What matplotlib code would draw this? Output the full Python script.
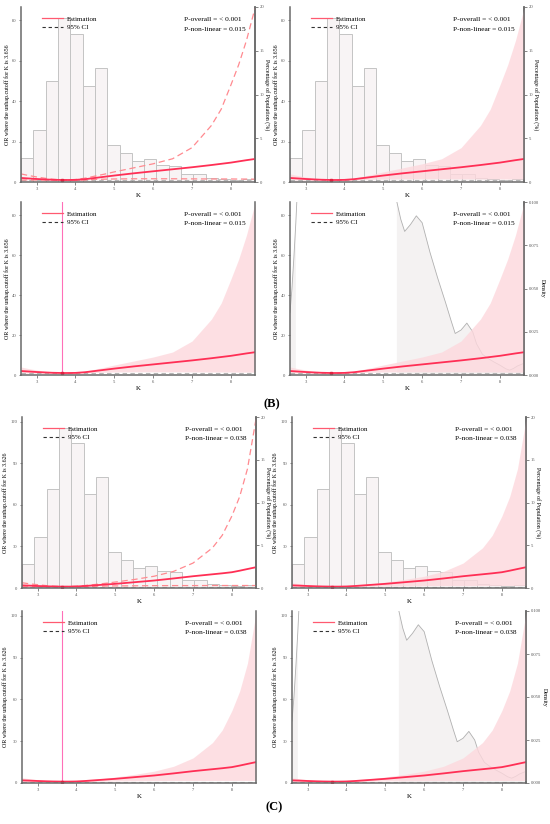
import matplotlib.pyplot as plt
import numpy as np
from matplotlib.lines import Line2D

plt.rcParams["font.family"] = ["Liberation Serif", "DejaVu Serif"]

# K grid used for the spline read-outs
k_b = [2.6, 2.8, 3.0, 3.2, 3.4, 3.656, 3.8, 4.0, 4.25, 4.5, 4.75, 5.0, 5.5,
       6.0, 6.5, 7.0, 7.5, 7.75, 8.0, 8.2, 8.4, 8.62]
k_c = [2.6, 2.8, 3.0, 3.2, 3.4, 3.626, 3.8, 4.0, 4.25, 4.5, 4.75, 5.0, 5.5,
       6.0, 6.5, 7.0, 7.5, 7.75, 8.0, 8.2, 8.4, 8.62]

# (B) odds ratio and 95% CI
or_b = [2.0, 1.75, 1.5, 1.3, 1.12, 1.0, 1.0, 1.05, 1.4, 2.0, 2.6, 3.2, 4.3,
        5.3, 6.3, 7.3, 8.4, 9.0, 9.6, 10.2, 10.8, 11.4]
up_b = [4.0, 3.2, 2.5, 1.9, 1.4, 1.0, 1.05, 1.25, 1.9, 2.9, 3.9, 5.0, 7.0,
        9.0, 11.5, 17.0, 28.0, 36.0, 48.0, 58.0, 70.0, 86.0]
lo_b = [1.0, 1.0, 0.95, 0.95, 0.97, 1.0, 0.95, 0.9, 1.0, 1.3, 1.4, 1.5, 1.6,
        1.6, 1.6, 1.55, 1.5, 1.5, 1.5, 1.45, 1.45, 1.4]

# (C) odds ratio and 95% CI
or_c = [1.9, 1.7, 1.45, 1.25, 1.1, 1.0, 1.0, 1.1, 1.5, 2.0, 2.5, 3.0, 4.2,
        5.4, 6.9, 8.5, 9.9, 10.6, 11.4, 12.5, 13.7, 15.0]
up_c = [3.8, 3.0, 2.4, 1.8, 1.35, 1.0, 1.05, 1.3, 1.9, 2.6, 3.4, 4.3, 6.2,
        8.5, 12.0, 18.0, 29.0, 38.0, 52.0, 66.0, 86.0, 122.0]
lo_c = [0.9, 0.9, 0.9, 0.92, 0.95, 1.0, 0.95, 0.92, 1.0, 1.25, 1.4, 1.5, 1.6,
        1.7, 1.75, 1.75, 1.8, 1.8, 1.8, 1.8, 1.8, 1.8]

# histogram of K (percentage of population), 19 equal bins
pct = [2.75, 6.0, 11.57, 18.75, 16.97, 10.95, 13.03, 4.22, 3.3, 2.38, 2.63,
       2.0, 1.83, 0.88, 0.94, 0.5, 0.3, 0.27, 0.38]

# density of K
k_dens = [2.6, 2.65, 2.7, 2.75, 2.8, 2.9, 3.2, 3.6, 4.0, 4.5, 5.0, 5.2, 5.35,
          5.45, 5.55, 5.7, 5.85, 6.0, 6.2, 6.4, 6.6, 6.75, 6.85, 7.0, 7.15,
          7.3, 7.4, 7.55, 7.7, 7.85, 8.0, 8.15, 8.25, 8.35, 8.45, 8.62]
dens = [0.036, 0.05, 0.068, 0.088, 0.112, 0.2, 0.45, 0.6, 0.55, 0.4, 0.2,
        0.13, 0.1, 0.09, 0.083, 0.087, 0.092, 0.088, 0.071, 0.056, 0.042,
        0.031, 0.024, 0.026, 0.030, 0.025, 0.018, 0.012, 0.0095, 0.0075,
        0.0057, 0.0036, 0.0028, 0.0038, 0.0052, 0.0068]

k_min, k_max = 2.6, 8.62
RED = "#ff2f55"
PINK_FILL = "#fdd8dd"
AXC = "#6a6a6a"

groups = {
    "B": dict(k=k_b, est=or_b, up=up_b, lo=lo_b, ref=3.656, ytop=86.6,
              yticks=[0, 20, 40, 60, 80], pnl="0.015"),
    "C": dict(k=k_c, est=or_c, up=up_c, lo=lo_c, ref=3.626, ytop=123.5,
              yticks=[0, 30, 60, 90, 120], pnl="0.038"),
}


def style_axis(ax):
    for side in ["left", "bottom", "right"]:
        ax.spines[side].set_color(AXC)
        ax.spines[side].set_linewidth(1.1)
    ax.spines["top"].set_visible(False)
    ax.tick_params(labelsize=3.3, colors="#555555", length=1.8, width=0.5,
                   pad=1.5)


def draw_panel(ax, g, kind):
    d = groups[g]
    ax2 = ax.twinx()
    ax.set_zorder(ax2.get_zorder() + 1)
    ax.patch.set_visible(False)

    if kind in ("lines", "band"):
        edges = np.linspace(k_min, k_max, len(pct) + 1)
        ax2.bar(edges[:-1], pct, width=np.diff(edges), align="edge",
                color="#f8f4f5", edgecolor="#c4c4c4", linewidth=0.7)
        ax2.set_ylim(0, 20)
        ax2.set_yticks([0, 5, 10, 15, 20])
        ax2.set_ylabel("Percentage of Population (%)", rotation=270,
                       fontsize=4.3, labelpad=4)
    elif kind == "density":
        dv = np.array(dens)
        ax2.fill_between(k_dens, 0, dv, where=dv <= 0.1, color="#f4f2f2",
                         linewidth=0, interpolate=True)
        ax2.plot(k_dens, dens, color="#b0b0b0", linewidth=0.6)
        ax2.set_ylim(0, 0.1)
        ax2.set_yticks([0, 0.025, 0.05, 0.075, 0.1])
        ax2.set_yticklabels(["0.000", "0.025", "0.050", "0.075", "0.100"])
        ax2.set_ylabel("Density", rotation=270, fontsize=4.3, labelpad=4)
    else:
        ax2.set_yticks([])
        ax2.spines["right"].set_visible(False)

    ax.axhline(1, color="#b5b5b5", linestyle=(0, (4, 3)), linewidth=0.8)
    if kind == "lines":
        ax.plot(d["k"], d["up"], color="#ff8a90", linestyle=(0, (5, 3)),
                linewidth=0.9)
        ax.plot(d["k"], d["lo"], color="#ff8a90", linestyle=(0, (5, 3)),
                linewidth=0.9)
    else:
        ax.fill_between(d["k"], d["lo"], d["up"], color=PINK_FILL,
                        alpha=0.8, linewidth=0)
    if kind == "vline":
        ax.axvline(d["ref"], color="#ff6fb8", linewidth=0.8)
    ax.plot(d["k"], d["est"], color=RED, linewidth=1.3)
    ax.plot([d["ref"]], [1.0], marker="s", markersize=2, color="#e0203f")

    ax.set_xlim(k_min, k_max)
    ax.set_ylim(0, d["ytop"])
    ax.set_yticks(d["yticks"])
    ax.set_xticks([3, 4, 5, 6, 7, 8])
    ax.set_xlabel("K", fontsize=5, labelpad=2)
    ax.set_ylabel("OR where the unhap.cutoff for K is %s" % d["ref"],
                  fontsize=4.3, labelpad=1.5)
    style_axis(ax)
    style_axis(ax2)
    ax2.spines["left"].set_visible(False)
    ax2.spines["bottom"].set_visible(False)
    if kind == "vline":
        ax2.spines["right"].set_visible(False)

    handles = [Line2D([], [], color="#ff5a70", linewidth=0.9),
               Line2D([], [], color="#333333", linewidth=0.8,
                      linestyle=(0, (3, 2.5)))]
    ax.legend(handles, ["Estimation", "95% CI"], loc="upper left",
              bbox_to_anchor=(0.065, 0.985), frameon=False, fontsize=5,
              handlelength=2.9, handletextpad=0.6, labelspacing=0.35)
    ax.text(0.695, 0.926, "P-overall = < 0.001", transform=ax.transAxes,
            fontsize=5.3, va="center")
    ax.text(0.695, 0.874, "P-non-linear = %s" % d["pnl"],
            transform=ax.transAxes, fontsize=5.3, va="center")


fig = plt.figure(figsize=(5.5, 8.24), dpi=100)
W, H = 550, 824
layout = [
    ("B", "lines", 21, 7, 182), ("B", "band", 290, 7, 182),
    ("B", "vline", 21, 202, 375), ("B", "density", 290, 202, 375),
    ("C", "lines", 22, 417, 588), ("C", "band", 292, 417, 588),
    ("C", "vline", 22, 611, 783), ("C", "density", 292, 611, 783),
]
for g, kind, x0, top, bot in layout:
    ax = fig.add_axes([x0 / W, 1 - bot / H, 234 / W, (bot - top) / H])
    draw_panel(ax, g, kind)

fig.text(272 / W, 1 - 404 / H, "(B)", fontsize=9, fontweight="bold",
         ha="center", va="center")
fig.text(274 / W, 1 - 807 / H, "(C)", fontsize=9, fontweight="bold",
         ha="center", va="center")

fig.savefig("out.png", dpi=100, facecolor="white")
